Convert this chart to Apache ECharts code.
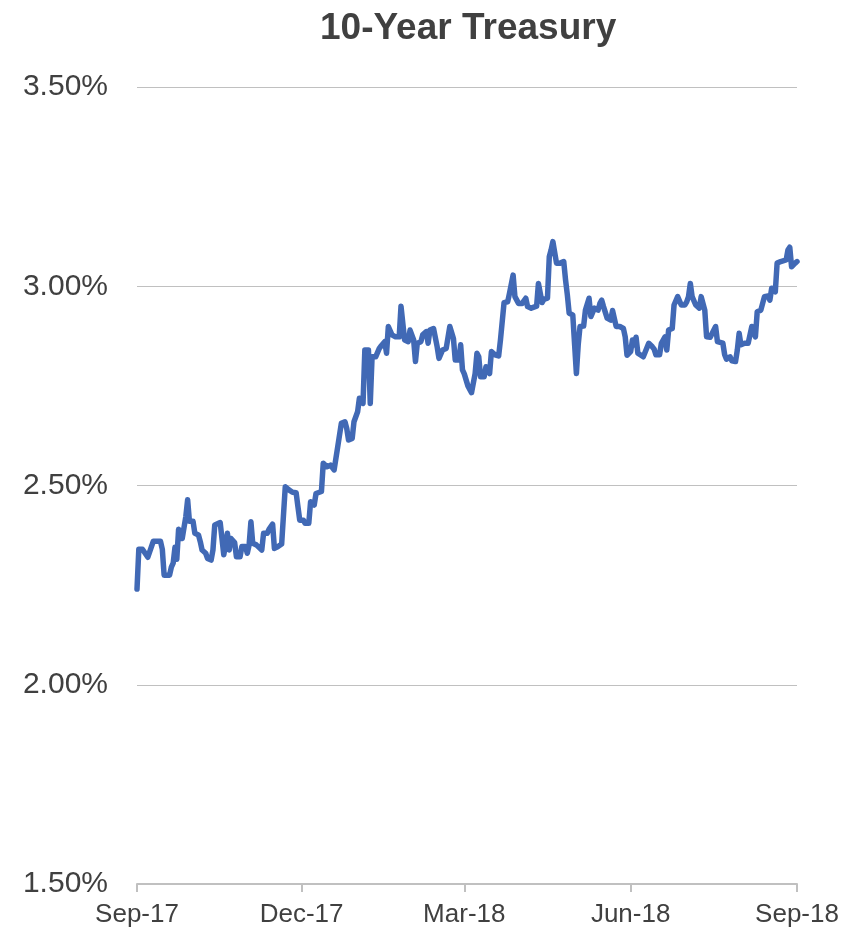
<!DOCTYPE html>
<html>
<head>
<meta charset="utf-8">
<script src="https://cdn.jsdelivr.net/npm/echarts@6/dist/echarts.min.js"></script>
<style>
  html, body { margin: 0; padding: 0; background: #ffffff; }
  #chart { width: 856px; height: 934px; }
</style>
</head>
<body>
<div id="chart"></div>
<script>
// 10-year Treasury yield, percent
const dates = [
  '2017-09-01','2017-09-02','2017-09-04','2017-09-05','2017-09-07','2017-09-08','2017-09-10','2017-09-14','2017-09-15','2017-09-16',
  '2017-09-19','2017-09-20','2017-09-21','2017-09-22','2017-09-23','2017-09-24','2017-09-25','2017-09-26','2017-09-27','2017-09-28',
  '2017-09-29','2017-09-30','2017-10-02','2017-10-03','2017-10-05','2017-10-06','2017-10-07','2017-10-09','2017-10-10','2017-10-12',
  '2017-10-13','2017-10-14','2017-10-15','2017-10-17','2017-10-19','2017-10-20','2017-10-21','2017-10-22','2017-10-23','2017-10-25',
  '2017-10-26','2017-10-28','2017-10-29','2017-10-31','2017-11-01','2017-11-02','2017-11-03','2017-11-04','2017-11-06','2017-11-07',
  '2017-11-09','2017-11-10','2017-11-12','2017-11-13','2017-11-15','2017-11-16','2017-11-18','2017-11-20','2017-11-22','2017-11-24',
  '2017-11-26','2017-11-28','2017-11-29','2017-11-30','2017-12-02','2017-12-03','2017-12-05','2017-12-06','2017-12-07','2017-12-08',
  '2017-12-09','2017-12-12','2017-12-13','2017-12-15','2017-12-17','2017-12-19','2017-12-20','2017-12-21','2017-12-23','2017-12-25',
  '2017-12-26','2017-12-27','2017-12-29','2017-12-30','2017-12-31','2018-01-01','2018-01-02','2018-01-04','2018-01-05','2018-01-07',
  '2018-01-08','2018-01-09','2018-01-11','2018-01-13','2018-01-14','2018-01-16','2018-01-17','2018-01-18','2018-01-20','2018-01-22',
  '2018-01-24','2018-01-25','2018-01-27','2018-01-29','2018-01-30','2018-02-01','2018-02-02','2018-02-03','2018-02-05','2018-02-06',
  '2018-02-08','2018-02-09','2018-02-10','2018-02-12','2018-02-14','2018-02-15','2018-02-17','2018-02-19','2018-02-21','2018-02-23',
  '2018-02-24','2018-02-26','2018-02-27','2018-02-28','2018-03-01','2018-03-02','2018-03-03','2018-03-05','2018-03-06','2018-03-07',
  '2018-03-08','2018-03-09','2018-03-10','2018-03-12','2018-03-13','2018-03-15','2018-03-16','2018-03-18','2018-03-20','2018-03-21',
  '2018-03-23','2018-03-25','2018-03-26','2018-03-28','2018-03-29','2018-03-31','2018-04-02','2018-04-03','2018-04-04','2018-04-05',
  '2018-04-07','2018-04-08','2018-04-10','2018-04-11','2018-04-13','2018-04-14','2018-04-16','2018-04-17','2018-04-18','2018-04-19',
  '2018-04-21','2018-04-23','2018-04-25','2018-04-26','2018-04-27','2018-04-28','2018-04-30','2018-05-02','2018-05-03','2018-05-04',
  '2018-05-06','2018-05-07','2018-05-08','2018-05-09','2018-05-10','2018-05-11','2018-05-12','2018-05-14','2018-05-15','2018-05-16',
  '2018-05-17','2018-05-19','2018-05-20','2018-05-21','2018-05-22','2018-05-24','2018-05-25','2018-05-26','2018-05-28','2018-05-29',
  '2018-05-30','2018-06-01','2018-06-02','2018-06-03','2018-06-04','2018-06-05','2018-06-06','2018-06-08','2018-06-09','2018-06-11',
  '2018-06-12','2018-06-13','2018-06-14','2018-06-15','2018-06-17','2018-06-18','2018-06-19','2018-06-20','2018-06-21','2018-06-22',
  '2018-06-24','2018-06-25','2018-06-26','2018-06-27','2018-06-28','2018-06-29','2018-07-01','2018-07-02','2018-07-03','2018-07-04',
  '2018-07-05','2018-07-07','2018-07-08','2018-07-09','2018-07-10','2018-07-11','2018-07-12','2018-07-13','2018-07-15','2018-07-16',
  '2018-07-18','2018-07-19','2018-07-20','2018-07-22','2018-07-23','2018-07-24','2018-07-26','2018-07-27','2018-07-29','2018-07-30',
  '2018-07-31','2018-08-01','2018-08-03','2018-08-05','2018-08-06','2018-08-07','2018-08-08','2018-08-09','2018-08-10','2018-08-12',
  '2018-08-13','2018-08-14','2018-08-16','2018-08-17','2018-08-18','2018-08-19','2018-08-20','2018-08-21','2018-08-23','2018-08-24',
  '2018-08-26','2018-08-27','2018-08-28','2018-08-29','2018-08-31','2018-09-01'
];

const yields = [
  2.24, 2.34, 2.34, 2.345, 2.32, 2.325, 2.36, 2.36, 2.34, 2.275,
  2.275, 2.295, 2.305, 2.345, 2.315, 2.39, 2.39, 2.367, 2.37, 2.422,
  2.464, 2.41, 2.41, 2.38, 2.376, 2.359, 2.338, 2.33, 2.317, 2.313,
  2.338, 2.401, 2.40, 2.407, 2.326, 2.321, 2.38, 2.338, 2.367, 2.357,
  2.321, 2.321, 2.347, 2.347, 2.33, 2.351, 2.409, 2.355, 2.351, 2.355,
  2.338, 2.38, 2.38, 2.39, 2.403, 2.342, 2.347, 2.353, 2.497, 2.489,
  2.483, 2.482, 2.447, 2.413, 2.413, 2.405, 2.405, 2.459, 2.464, 2.451,
  2.48, 2.485, 2.556, 2.547, 2.551, 2.539, 2.539, 2.597, 2.656, 2.66,
  2.643, 2.614, 2.618, 2.66, 2.664, 2.685, 2.719, 2.706, 2.84, 2.84,
  2.706, 2.823, 2.823, 2.844, 2.85, 2.861, 2.832, 2.899, 2.878, 2.873,
  2.873, 2.95, 2.865, 2.861, 2.89, 2.865, 2.811, 2.857, 2.861, 2.878,
  2.886, 2.857, 2.89, 2.894, 2.848, 2.819, 2.84, 2.844, 2.899, 2.869,
  2.815, 2.815, 2.853, 2.79, 2.78, 2.78, 2.75, 2.733, 2.733, 2.781,
  2.832, 2.823, 2.773, 2.773, 2.798, 2.781, 2.836, 2.828, 2.825, 2.865,
  2.959, 2.961, 2.982, 3.028, 2.974, 2.957, 2.957, 2.953, 2.97, 2.949,
  2.945, 2.95, 2.95, 3.007, 2.959, 2.967, 2.97, 3.074, 3.091, 3.112,
  3.058, 3.058, 3.062, 3.016, 2.978, 2.932, 2.928, 2.781, 2.853, 2.899,
  2.90, 2.94, 2.94, 2.97, 2.924, 2.92, 2.945, 2.94, 2.957, 2.965,
  2.949, 2.92, 2.92, 2.915, 2.939, 2.899, 2.894, 2.899, 2.894, 2.873,
  2.827, 2.836, 2.865, 2.853, 2.872, 2.832, 2.828, 2.823, 2.819, 2.857,
  2.853, 2.848, 2.842, 2.828, 2.828, 2.857, 2.865, 2.873, 2.84, 2.89,
  2.894, 2.953, 2.957, 2.974, 2.978, 2.953, 2.953, 2.961, 2.974, 3.007,
  2.974, 2.953, 2.949, 2.945, 2.974, 2.97, 2.94, 2.873, 2.872, 2.873,
  2.899, 2.861, 2.861, 2.857, 2.828, 2.817, 2.823, 2.813, 2.811, 2.84,
  2.882, 2.853, 2.857, 2.857, 2.861, 2.899, 2.903, 2.873, 2.936, 2.94,
  2.936, 2.974, 2.976, 2.965, 2.995, 2.995, 2.986, 3.058, 3.062, 3.062,
  3.066, 3.091, 3.098, 3.049, 3.058, 3.062
];

// Quarterly ticks along the date axis
const tickDates = ['2017-09-01', '2017-12-01', '2018-03-01', '2018-06-01', '2018-09-01'];
const monthNames = ['Jan','Feb','Mar','Apr','May','Jun','Jul','Aug','Sep','Oct','Nov','Dec'];

const textColor = '#404040';
const gridColor = '#c0c0c0';
const fontFamily = '"Liberation Sans", Arial, sans-serif';

// Dates are placed on a numeric axis of epoch milliseconds
const toTime = s => {
  const p = s.split('-').map(Number);
  return Date.UTC(p[0], p[1] - 1, p[2]);
};
const tickTimes = tickDates.map(toTime);
const seriesData = dates.map((d, i) => [toTime(d), yields[i]]);

const chart = echarts.init(document.getElementById('chart'), null, { renderer: 'canvas' });
chart.setOption({
  animation: false,
  backgroundColor: '#ffffff',
  title: {
    text: '10-Year Treasury',
    left: 315,
    top: 5,
    textStyle: { fontFamily, fontSize: 37, fontWeight: 'bold', color: textColor }
  },
  grid: { left: 137, right: 59, top: 87, bottom: 50, containLabel: false },
  xAxis: {
    type: 'value',
    min: tickTimes[0],
    max: tickTimes[tickTimes.length - 1],
    axisLine: { show: true, onZero: false, lineStyle: { color: gridColor, width: 2 } },
    axisTick: { show: true, customValues: tickTimes, length: 8, lineStyle: { color: gridColor, width: 2 } },
    axisLabel: {
      customValues: tickTimes,
      margin: 18,
      fontFamily, fontSize: 26, color: textColor,
      formatter: v => {
        const d = new Date(v);
        return monthNames[d.getUTCMonth()] + '-' + String(d.getUTCFullYear()).slice(2);
      }
    },
    splitLine: { show: false }
  },
  yAxis: {
    type: 'value',
    min: 1.5,
    max: 3.5,
    interval: 0.5,
    axisLine: { show: false },
    axisTick: { show: false },
    axisLabel: {
      margin: 29,
      fontFamily, fontSize: 30, color: textColor,
      formatter: v => v.toFixed(2) + '%'
    },
    splitLine: { show: true, lineStyle: { color: gridColor, width: 1 } }
  },
  series: [{
    type: 'line',
    data: seriesData,
    showSymbol: false,
    lineStyle: { color: '#4169B5', width: 5.5, join: 'round', cap: 'round' },
    itemStyle: { color: '#4169B5' }
  }]
});
</script>
</body>
</html>
